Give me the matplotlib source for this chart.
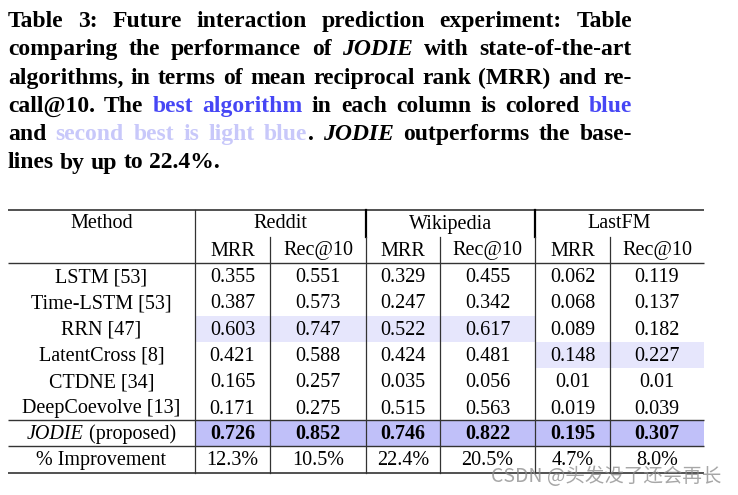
import matplotlib.pyplot as plt

# caption text, pieces: (text, kind)  n=normal, i=italic, b=blue, l=light blue
caption = [
    [("Table 3:  Future interaction prediction experiment: Table", "n")],
    [("comparing the performance of ", "n"), ("JODIE", "i"), (" with state-of-the-art", "n")],
    [("algorithms, in terms of mean reciprocal rank (MRR) and re-", "n")],
    [("call@10. The ", "n"), ("best algorithm", "b"), (" in each column is colored ", "n"), ("blue", "b")],
    [("and ", "n"), ("second best is light blue", "l"), (". ", "n"), ("JODIE", "i"), (" outperforms the base-", "n")],
    [("lines by up to 22.4%.", "n")],
]

datasets = ["Reddit", "Wikipedia", "LastFM"]
metrics = ["MRR", "Rec@10"]
methods = ["LSTM [53]", "Time-LSTM [53]", "RRN [47]", "LatentCross [8]", "CTDNE [34]", "DeepCoevolve [13]"]
values = [
    ["0.355", "0.551", "0.329", "0.455", "0.062", "0.119"],
    ["0.387", "0.573", "0.247", "0.342", "0.068", "0.137"],
    ["0.603", "0.747", "0.522", "0.617", "0.089", "0.182"],
    ["0.421", "0.588", "0.424", "0.481", "0.148", "0.227"],
    ["0.165", "0.257", "0.035", "0.056", "0.01", "0.01"],
    ["0.171", "0.275", "0.515", "0.563", "0.019", "0.039"],
]
jodie = ["0.726", "0.852", "0.746", "0.822", "0.195", "0.307"]
improvement = ["12.3%", "10.5%", "22.4%", "20.5%", "4.7%", "8.0%"]

serif = "Liberation Serif"
cap_fs = 17
tab_fs = 14.5
colors = {"n": "black", "i": "black", "b": "#4646f5", "l": "#c8c8fa"}
best_bg = "#c0c0f9"
second_bg = "#e6e6fc"
line_col = "#333333"

fig = plt.figure(figsize=(7.38, 4.95), dpi=100)
ax = fig.add_axes([0, 0, 1, 1])
ax.set_xlim(0, 738)
ax.set_ylim(495, 0)
ax.axis("off")
r = fig.canvas.get_renderer()


def to_words(segs):
    words = [[]]
    for txt, kind in segs:
        parts = txt.split(" ")
        for k, part in enumerate(parts):
            if k > 0:
                words.append([])
            if part:
                words[-1].append((part, kind))
    return [w for w in words if w]


def draw_line(segs, x0, x1, y, justify=True):
    items = []
    for w in to_words(segs):
        pieces = []
        for txt, kind in w:
            t = ax.text(0, y, txt, family=serif, fontweight="bold",
                        fontstyle="italic" if kind == "i" else "normal",
                        fontsize=cap_fs, color=colors[kind], va="baseline", ha="left")
            pieces.append((t, t.get_window_extent(r).width))
        items.append(pieces)
    total = sum(wd for p in items for _, wd in p)
    gap = (x1 - x0 - total) / (len(items) - 1) if justify else cap_fs * 100 / 72 * 0.25
    x = x0
    for p in items:
        for t, wd in p:
            t.set_x(x)
            x += wd
        x += gap


for i, segs in enumerate(caption):
    draw_line(segs, 8, 632, 27 + i * 28.3, justify=(i < len(caption) - 1))

# table layout
xb = [8, 195, 270, 366, 440, 535, 610, 704]
yb = [209.5, 236.5, 263, 289.3, 315.6, 341.9, 368.2, 394.5, 420, 446, 473]
base = 19

# second best per column (max among baselines)
for c in range(6):
    col = [float(v[c]) for v in values]
    rbest = col.index(max(col))
    ax.add_patch(plt.Rectangle((xb[c + 1], yb[2 + rbest]), xb[c + 2] - xb[c + 1],
                               yb[3 + rbest] - yb[2 + rbest], color=second_bg, lw=0))
ax.add_patch(plt.Rectangle((xb[1], yb[8]), xb[7] - xb[1], yb[9] - yb[8], color=best_bg, lw=0))


def cell(x, y, s, **kw):
    ax.text(x, y, s, family=serif, fontsize=tab_fs, ha="center", va="baseline", **kw)


cell((xb[0] + xb[1]) / 2, yb[0] + base, "Method")
for d, name in enumerate(datasets):
    cell((xb[1 + 2 * d] + xb[3 + 2 * d]) / 2, yb[0] + base, name)
for c in range(6):
    cell((xb[c + 1] + xb[c + 2]) / 2, yb[1] + base, metrics[c % 2])

for i, m in enumerate(methods):
    y = yb[2 + i] + base
    cell((xb[0] + xb[1]) / 2, y, m)
    for c in range(6):
        cell((xb[c + 1] + xb[c + 2]) / 2, y, values[i][c])

# JODIE (proposed) with italic name
y = yb[8] + base
t1 = ax.text(0, y, "JODIE", family=serif, fontsize=tab_fs, fontstyle="italic", va="baseline", ha="left")
t2 = ax.text(0, y, " (proposed)", family=serif, fontsize=tab_fs, va="baseline", ha="left")
w1 = t1.get_window_extent(r).width
w2 = t2.get_window_extent(r).width
x0 = (xb[0] + xb[1]) / 2 - (w1 + w2) / 2
t1.set_x(x0)
t2.set_x(x0 + w1)
for c in range(6):
    cell((xb[c + 1] + xb[c + 2]) / 2, y, jodie[c], fontweight="bold")

y = yb[9] + base
cell((xb[0] + xb[1]) / 2, y, "% Improvement")
for c in range(6):
    cell((xb[c + 1] + xb[c + 2]) / 2, y, improvement[c])

# rules
for yy, lw in [(yb[0], 1.2), (yb[2], 1.0), (yb[8], 1.0), (yb[9], 1.0), (yb[10], 1.2)]:
    ax.plot([xb[0], xb[7]], [yy, yy], color=line_col, lw=lw, solid_capstyle="butt")
ax.plot([xb[1], xb[1]], [yb[0], yb[10]], color=line_col, lw=0.9)
for xx in (xb[3], xb[5]):
    ax.plot([xx, xx], [yb[0], yb[1]], color="black", lw=1.6)
    ax.plot([xx, xx], [yb[1], yb[10]], color=line_col, lw=0.9)
for xx in (xb[2], xb[4], xb[6]):
    ax.plot([xx, xx], [yb[1], yb[10]], color=line_col, lw=0.9)

ax.text(606, 476, "CSDN @头发没了还会再长", ha="center", va="center", fontsize=14,
        color="#8a8a8a", alpha=0.75, family=["Noto Sans CJK SC", "DejaVu Sans"])

fig.savefig("out.png", dpi=100)
